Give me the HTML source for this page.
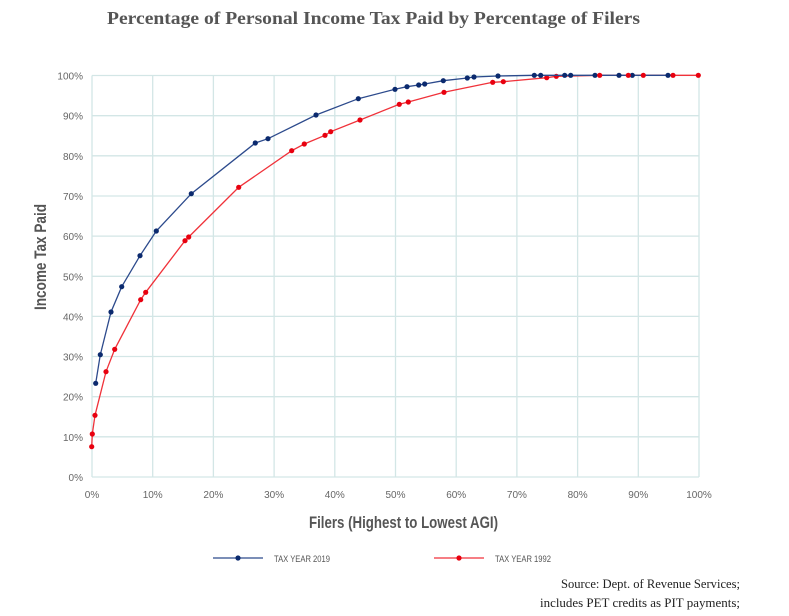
<!DOCTYPE html>
<html><head><meta charset="utf-8"><style>
body{margin:0;background:#fff;}
svg{display:block;}
.t{font-family:"Liberation Sans",sans-serif;fill:#666;font-size:10px;}
</style></head><body>
<svg width="789" height="616" viewBox="0 0 789 616" xmlns="http://www.w3.org/2000/svg">
<text x="107" y="24" textLength="533" lengthAdjust="spacingAndGlyphs" font-family="Liberation Serif,serif" font-weight="bold" font-size="18" fill="#555">Percentage of Personal Income Tax Paid by Percentage of Filers</text>
<g stroke="#d3e6e6" stroke-width="1.3">
<line x1="92" y1="477" x2="699" y2="477"/><line x1="92" y1="436.8" x2="699" y2="436.8"/><line x1="92" y1="396.7" x2="699" y2="396.7"/><line x1="92" y1="356.5" x2="699" y2="356.5"/><line x1="92" y1="316.4" x2="699" y2="316.4"/><line x1="92" y1="276.3" x2="699" y2="276.3"/><line x1="92" y1="236.1" x2="699" y2="236.1"/><line x1="92" y1="196" x2="699" y2="196"/><line x1="92" y1="155.8" x2="699" y2="155.8"/><line x1="92" y1="115.7" x2="699" y2="115.7"/><line x1="92" y1="75.5" x2="699" y2="75.5"/>
<line x1="92" y1="75.5" x2="92" y2="477"/><line x1="152.7" y1="75.5" x2="152.7" y2="477"/><line x1="213.4" y1="75.5" x2="213.4" y2="477"/><line x1="274.1" y1="75.5" x2="274.1" y2="477"/><line x1="334.8" y1="75.5" x2="334.8" y2="477"/><line x1="395.5" y1="75.5" x2="395.5" y2="477"/><line x1="456.2" y1="75.5" x2="456.2" y2="477"/><line x1="516.9" y1="75.5" x2="516.9" y2="477"/><line x1="577.6" y1="75.5" x2="577.6" y2="477"/><line x1="638.3" y1="75.5" x2="638.3" y2="477"/><line x1="699" y1="75.5" x2="699" y2="477"/>
</g>
<g class="t" text-anchor="end">
<text x="83" y="481">0%</text><text x="83" y="440.8">10%</text><text x="83" y="400.7">20%</text><text x="83" y="360.5">30%</text><text x="83" y="320.4">40%</text><text x="83" y="280.3">50%</text><text x="83" y="240.1">60%</text><text x="83" y="200">70%</text><text x="83" y="159.8">80%</text><text x="83" y="119.7">90%</text><text x="83" y="79.5">100%</text>
</g>
<g class="t" text-anchor="middle">
<text x="92" y="498">0%</text><text x="152.7" y="498">10%</text><text x="213.4" y="498">20%</text><text x="274.1" y="498">30%</text><text x="334.8" y="498">40%</text><text x="395.5" y="498">50%</text><text x="456.2" y="498">60%</text><text x="516.9" y="498">70%</text><text x="577.6" y="498">80%</text><text x="638.3" y="498">90%</text><text x="699" y="498">100%</text>
</g>
<text x="309" y="528" textLength="189" lengthAdjust="spacingAndGlyphs" font-family="Liberation Sans,sans-serif" font-weight="bold" font-size="17" fill="#555">Filers (Highest to Lowest AGI)</text>
<text transform="translate(46,310) rotate(-90)" textLength="106" lengthAdjust="spacingAndGlyphs" font-family="Liberation Sans,sans-serif" font-weight="bold" font-size="17" fill="#555">Income Tax Paid</text>
<g fill="#e8000f" stroke="none">
<polyline fill="none" stroke="#f0323a" stroke-width="1.3" points="91.7,446.7 92.3,434 95,415.3 106,371.7 114.7,349.3 140.7,299.7 145.7,292.3 185,240.7 188.7,237 238.7,187.3 291.7,150.7 304.3,144 325,135.3 330.7,131.7 360,120 399.3,104.3 408.3,102 444,92.3 492.7,82.3 503.3,81.7 546.7,77.7 556.3,76.3 599.7,75.3 628.3,75.3 643.3,75.3 673,75.3 698.3,75.3"/>
<circle cx="91.7" cy="446.7" r="2.6"/><circle cx="92.3" cy="434" r="2.6"/><circle cx="95" cy="415.3" r="2.6"/><circle cx="106" cy="371.7" r="2.6"/><circle cx="114.7" cy="349.3" r="2.6"/><circle cx="140.7" cy="299.7" r="2.6"/><circle cx="145.7" cy="292.3" r="2.6"/><circle cx="185" cy="240.7" r="2.6"/><circle cx="188.7" cy="237" r="2.6"/><circle cx="238.7" cy="187.3" r="2.6"/><circle cx="291.7" cy="150.7" r="2.6"/><circle cx="304.3" cy="144" r="2.6"/><circle cx="325" cy="135.3" r="2.6"/><circle cx="330.7" cy="131.7" r="2.6"/><circle cx="360" cy="120" r="2.6"/><circle cx="399.3" cy="104.3" r="2.6"/><circle cx="408.3" cy="102" r="2.6"/><circle cx="444" cy="92.3" r="2.6"/><circle cx="492.7" cy="82.3" r="2.6"/><circle cx="503.3" cy="81.7" r="2.6"/><circle cx="546.7" cy="77.7" r="2.6"/><circle cx="556.3" cy="76.3" r="2.6"/>
</g>
<g fill="#0b2a6e">
<polyline fill="none" stroke="#2c4a8c" stroke-width="1.3" points="95.7,383.3 100.3,354.7 111,312 121.7,286.7 140,255.7 156.3,231 191.3,193.7 255.3,143 268,138.7 316,115 358.3,98.7 395,89.3 407,86.7 418.7,85 424.7,84 443.3,80.7 467.3,78 474,77 498,76 534.3,75.3 540.7,75.3 564.7,75.3 570.7,75.3 595,75.3 619,75.3 632.3,75.3 668,75.3"/>
<circle cx="95.7" cy="383.3" r="2.6"/><circle cx="100.3" cy="354.7" r="2.6"/><circle cx="111" cy="312" r="2.6"/><circle cx="121.7" cy="286.7" r="2.6"/><circle cx="140" cy="255.7" r="2.6"/><circle cx="156.3" cy="231" r="2.6"/><circle cx="191.3" cy="193.7" r="2.6"/><circle cx="255.3" cy="143" r="2.6"/><circle cx="268" cy="138.7" r="2.6"/><circle cx="316" cy="115" r="2.6"/><circle cx="358.3" cy="98.7" r="2.6"/><circle cx="395" cy="89.3" r="2.6"/><circle cx="407" cy="86.7" r="2.6"/><circle cx="418.7" cy="85" r="2.6"/><circle cx="424.7" cy="84" r="2.6"/><circle cx="443.3" cy="80.7" r="2.6"/><circle cx="467.3" cy="78" r="2.6"/><circle cx="474" cy="77" r="2.6"/><circle cx="498" cy="76" r="2.6"/><circle cx="534.3" cy="75.3" r="2.6"/><circle cx="540.7" cy="75.3" r="2.6"/><circle cx="564.7" cy="75.3" r="2.6"/><circle cx="570.7" cy="75.3" r="2.6"/><circle cx="595" cy="75.3" r="2.6"/><circle cx="619" cy="75.3" r="2.6"/><circle cx="632.3" cy="75.3" r="2.6"/><circle cx="668" cy="75.3" r="2.6"/>
</g>
<g fill="#e8000f">
<circle cx="599.7" cy="75.3" r="2.6"/><circle cx="628.3" cy="75.3" r="2.6"/><circle cx="643.3" cy="75.3" r="2.6"/><circle cx="673" cy="75.3" r="2.6"/><circle cx="698.3" cy="75.3" r="2.6"/>
</g>
<line x1="213" y1="558" x2="263" y2="558" stroke="#2c4a8c" stroke-width="1.3"/><circle cx="238" cy="558" r="2.6" fill="#0b2a6e"/>
<text x="274" y="562" textLength="56" lengthAdjust="spacingAndGlyphs" class="t" style="fill:#555;font-size:9.5px">TAX YEAR 2019</text>
<line x1="434" y1="558" x2="484" y2="558" stroke="#f0323a" stroke-width="1.3"/><circle cx="459" cy="558" r="2.6" fill="#e8000f"/>
<text x="495" y="562" textLength="56" lengthAdjust="spacingAndGlyphs" class="t" style="fill:#555;font-size:9.5px">TAX YEAR 1992</text>
<text x="561" y="588" textLength="179" lengthAdjust="spacingAndGlyphs" font-family="Liberation Serif,serif" font-size="12.5" fill="#222">Source: Dept. of Revenue Services;</text>
<text x="540" y="607" textLength="200" lengthAdjust="spacingAndGlyphs" font-family="Liberation Serif,serif" font-size="12.5" fill="#222">includes PET credits as PIT payments;</text>
</svg>
</body></html>
